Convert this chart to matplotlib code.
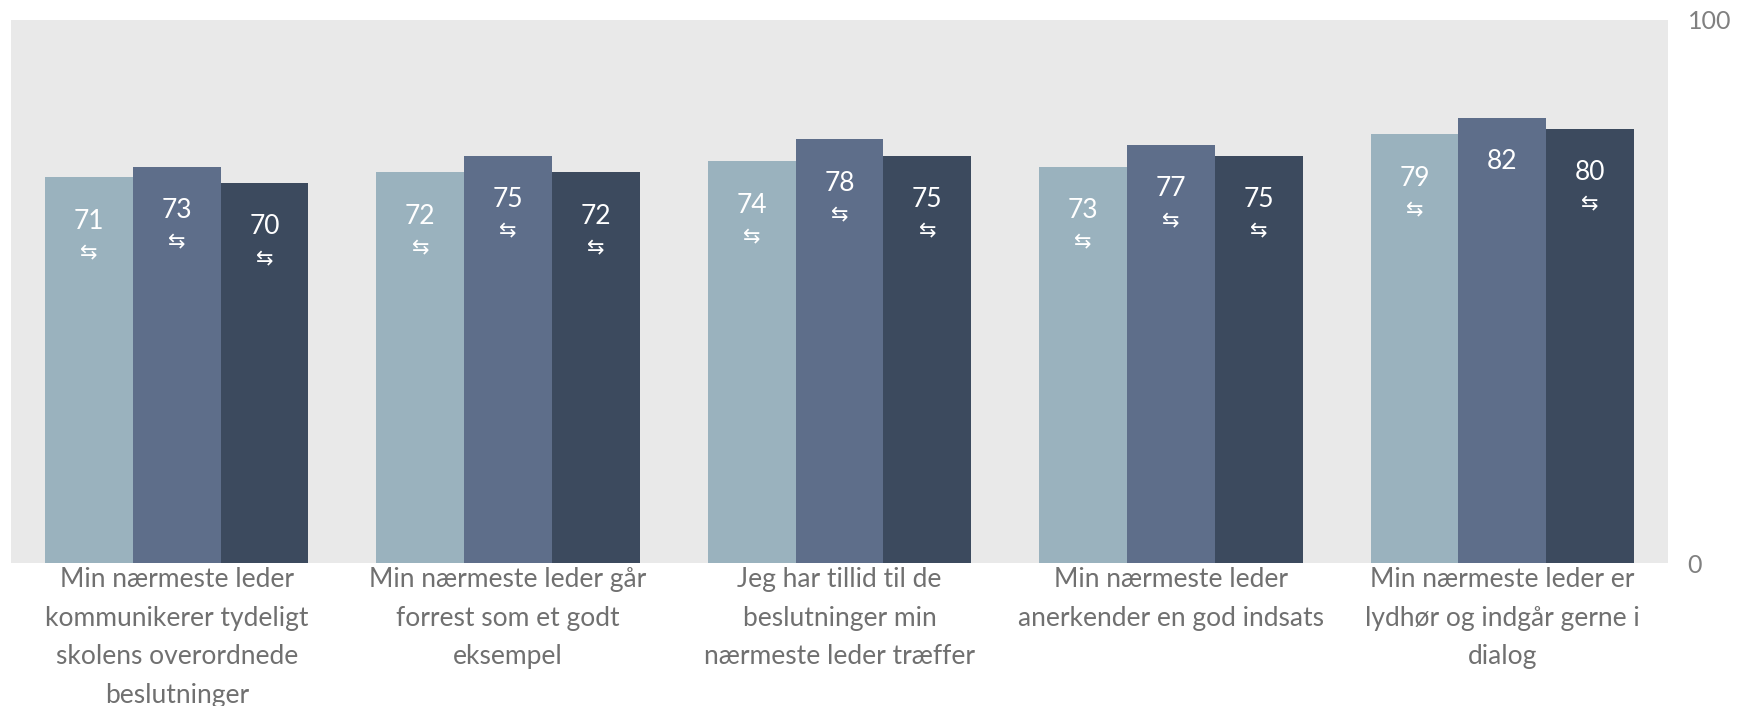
import matplotlib
matplotlib.use("Agg")
import matplotlib.pyplot as plt
import numpy as np

plt.rcParams['font.family'] = ['Lato', 'DejaVu Sans']

# kategorier (x-akse)
kategorier = [
    "Min nærmeste leder\nkommunikerer tydeligt\nskolens overordnede\nbeslutninger",
    "Min nærmeste leder går\nforrest som et godt\neksempel",
    "Jeg har tillid til de\nbeslutninger min\nnærmeste leder træffer",
    "Min nærmeste leder\nanerkender en god indsats",
    "Min nærmeste leder er\nlydhør og indgår gerne i\ndialog",
]

# tre serier
serie1 = [71, 72, 74, 73, 79]
serie2 = [73, 75, 78, 77, 82]
serie3 = [70, 72, 75, 75, 80]

# om der vises pil under tallet
pil1 = [True, True, True, True, True]
pil2 = [True, True, True, True, False]
pil3 = [True, True, True, True, True]

farver = ["#9AB2BE", "#5E6E8A", "#3C4A5E"]

fig = plt.figure(figsize=(17.47, 7.06), dpi=100)
ax = fig.add_axes([0.0063, 0.2025, 0.9485, 0.7692])
ax.set_facecolor("#E9E9E9")

x = np.arange(len(kategorier))
b = 0.265
serier = [serie1, serie2, serie3]
pile = [pil1, pil2, pil3]

for k, (s, p) in enumerate(zip(serier, pile)):
    pos = x + (k - 1) * b
    ax.bar(pos, s, width=b, color=farver[k], zorder=2)
    for xi, v, har_pil in zip(pos, s, p):
        ax.annotate(str(v), (xi, v), xytext=(0, -44), textcoords="offset pixels",
                    ha="center", va="center", color="white", fontsize=19)
        if har_pil:
            ax.annotate("⇆", (xi, v), xytext=(0, -76), textcoords="offset pixels",
                        ha="center", va="center", color="white", fontsize=15,
                        family=["DejaVu Sans"])

ax.set_xlim(-0.5, len(kategorier) - 0.5)
ax.set_ylim(0, 100)
ax.set_xticks(x)
ax.set_xticklabels(kategorier, fontsize=19, color="#707070", linespacing=1.68)
ax.set_yticks([0, 100])
ax.yaxis.tick_right()
ax.tick_params(axis="y", length=0, pad=14, labelsize=18, labelcolor="#808080")
ax.tick_params(axis="x", length=0, pad=3)
for sp in ax.spines.values():
    sp.set_visible(False)

plt.savefig("out.png", dpi=100)
